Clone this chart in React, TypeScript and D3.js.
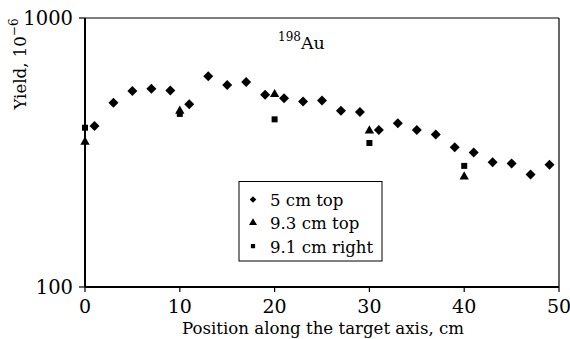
import React from "react";
import * as d3 from "d3";

// positions (cm) and yields (10^-6)
const topX = [1, 3, 5, 7, 9, 11, 13, 15, 17, 19, 21, 23, 25, 27, 29, 31, 33, 35, 37, 39, 41, 43, 45, 47, 49];
const topY = [397, 484, 535, 546, 538, 478, 608, 564, 578, 518, 503, 489, 493, 452, 447, 383, 406, 383, 369, 331, 316, 291, 288, 262, 285];

const top93X = [0, 10, 20, 30, 40];
const top93Y = [346, 451, 520, 381, 257];

const rightX = [0, 10, 20, 30, 40];
const rightY = [391, 440, 420, 343, 282];

const xTicks = [0, 10, 20, 30, 40, 50];
const yTicks = [100, 1000];

const legendLabels = ["5 cm top", "9.3 cm top", "9.1 cm right"];

const W = 570;
const H = 339;
const margin = { top: 18, right: 11, bottom: 52, left: 85 };
const font = "'DejaVu Serif', serif";

const diamond = d3.symbol(d3.symbolSquare, 50)()!;
const triangle = d3.symbol(d3.symbolTriangle, 38)()!;
const square = d3.symbol(d3.symbolSquare, 36)()!;

const diamondSmall = d3.symbol(d3.symbolSquare, 22)()!;
const triangleSmall = d3.symbol(d3.symbolTriangle, 28)()!;
const squareSmall = d3.symbol(d3.symbolSquare, 18)()!;

export default function App() {
  const x = d3.scaleLinear().domain([0, 50]).range([margin.left, W - margin.right]);
  const y = d3.scaleLog().domain([100, 1000]).range([H - margin.bottom, margin.top]);

  const [x0, x1] = x.range();
  const [y0, y1] = y.range();

  const series = [
    { xs: topX, ys: topY, path: diamond, rot: 45 },
    { xs: top93X, ys: top93Y, path: triangle, rot: 0 },
    { xs: rightX, ys: rightY, path: square, rot: 0 },
  ];
  const legendMarks = [
    { path: diamondSmall, rot: 45 },
    { path: triangleSmall, rot: 0 },
    { path: squareSmall, rot: 0 },
  ];

  return (
    <svg
      width={W}
      height={H}
      style={{ position: "absolute", left: 0, top: 0, background: "#fff" }}
      fontFamily={font}
    >
      {/* frame */}
      <line x1={x0} x2={x1} y1={y1} y2={y1} stroke="#000" strokeWidth={1.2} />
      <line x1={x1} x2={x1} y1={y1} y2={y0} stroke="#000" strokeWidth={1.2} />
      <line x1={x0} x2={x0} y1={y1} y2={y0} stroke="#000" strokeWidth={2} />
      <line x1={x0} x2={x1} y1={y0} y2={y0} stroke="#000" strokeWidth={2.2} />

      {/* x ticks */}
      {xTicks.map((t) => (
        <g key={"x" + t}>
          <line x1={x(t)} x2={x(t)} y1={y0} y2={y0 + 5} stroke="#000" strokeWidth={1.2} />
          <text x={x(t)} y={y0 + 26} textAnchor="middle" fontSize={19}>
            {t}
          </text>
        </g>
      ))}

      {/* y ticks */}
      {yTicks.map((t) => (
        <g key={"y" + t}>
          <line x1={x0 - 6} x2={x0} y1={y(t)} y2={y(t)} stroke="#000" strokeWidth={1.2} />
          <text x={x0 - 12} y={y(t) + 7} textAnchor="end" fontSize={19.5}>
            {t}
          </text>
        </g>
      ))}

      {/* axis titles */}
      <text x={(x0 + x1) / 2 + 1} y={H - 5} textAnchor="middle" fontSize={16.6}>
        Position along the target axis, cm
      </text>
      <text transform={`translate(26, 64) rotate(-90)`} textAnchor="middle" fontSize={16.6}>
        Yield, 10<tspan fontSize={12} dy={-8}>−6</tspan>
      </text>

      {/* isotope label */}
      <text x={278} y={49} fontSize={17.5}>
        <tspan fontSize={12} dy={-8}>198</tspan>
        <tspan dy={8}>Au</tspan>
      </text>

      {/* data */}
      {series.map((s, i) =>
        s.xs.map((xv, j) => (
          <path
            key={i + "-" + j}
            d={s.path}
            fill="#000"
            transform={`translate(${x(xv)},${y(s.ys[j])}) rotate(${s.rot})`}
          />
        ))
      )}

      {/* legend */}
      <rect x={239} y={181.5} width={143} height={79.5} fill="#fff" stroke="#000" strokeWidth={1} />
      {legendLabels.map((l, i) => (
        <g key={l} transform={`translate(253, ${199.5 + i * 23.3})`}>
          <path d={legendMarks[i].path} fill="#000" transform={`rotate(${legendMarks[i].rot})`} />
          <text x={17} y={6.5} fontSize={16.6}>
            {l}
          </text>
        </g>
      ))}
    </svg>
  );
}
